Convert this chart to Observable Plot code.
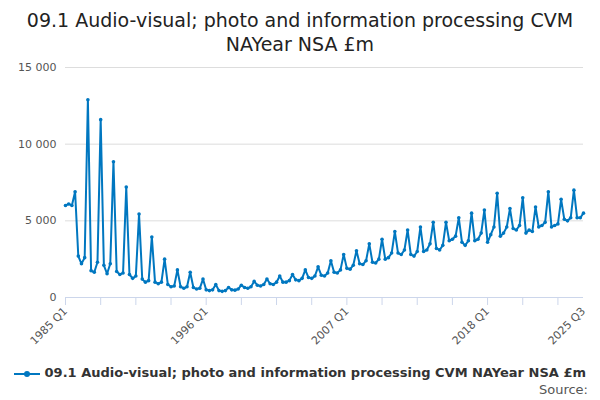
<!DOCTYPE html>
<html><head><meta charset="utf-8">
<script src="https://cdn.jsdelivr.net/npm/d3@7"></script>
<script src="https://cdn.jsdelivr.net/npm/@observablehq/plot@0.6"></script>
<style>
body{margin:0;font-family:"DejaVu Sans",sans-serif;background:#fff;width:600px;height:400px;overflow:hidden;position:relative}
#t{text-align:center;font-size:19px;color:#222;line-height:24px;padding-top:8px;height:42px}
#leg{position:absolute;top:365px;left:0;width:600px;text-align:center;font-size:13px;font-weight:bold;color:#333}
#src{position:absolute;top:382px;right:12px;font-size:13px;color:#555}
svg{overflow:visible}
</style></head><body>
<div id="t">09.1 Audio-visual; photo and information processing CVM<br>NAYear NSA £m</div>
<div id="chart"></div>
<div id="leg"><svg width="26" height="10" style="vertical-align:middle"><line x1="0" y1="5" x2="26" y2="5" stroke="#0077c0" stroke-width="2"/><circle cx="13" cy="5" r="3" fill="#0077c0"/></svg> 09.1 Audio-visual; photo and information processing CVM NAYear NSA £m</div>
<div id="src">Source:</div>
<script>
const startYear = 1985;
const values = [
6000,6100,6000,6900, 2700,2200,2600,12900, 1750,1650,2300,11600, 2100,1550,2200,8850,
1700,1500,1600,7200, 1500,1250,1400,5450, 1200,1000,1100,3950, 1000,900,1000,2500,
850,700,750,1800, 700,600,700,1650, 650,550,600,1200, 500,450,500,850,
450,400,450,650, 500,480,550,800, 650,600,700,1050, 800,750,850,1200,
900,850,1000,1400, 1000,1000,1100,1500, 1150,1100,1250,1800, 1300,1250,1400,2000,
1450,1400,1600,2400, 1650,1600,1800,2800, 1900,1850,2100,3050, 2200,2150,2400,3500,
2300,2250,2500,3800, 2500,2600,2900,4300, 2900,2800,3100,4400, 2800,2700,3000,4600,
3000,3100,3500,4900, 3200,3100,3400,4900, 3700,3800,4000,5200, 3600,3400,3700,5500,
3700,3800,4200,5700, 3600,4100,4600,6800, 4000,4200,4600,5800, 4500,4400,4700,6500,
4200,4400,4300,5900, 4600,4700,4900,6900, 4600,4700,4800,6400, 5100,5000,5200,7000,
5200,5200,5500];
const labelIdx = [0,44,88,132,162];
const yTicks = [0,5000,10000,15000];
const data = values.map((v,i)=>({i, v}));
const lab = i => `${startYear+Math.floor(i/4)} Q${i%4+1}`;
const minor = d3.range(0,163,11);
const fmt = d => d3.format(",")(d).replace(/,/g," ");
const chart = Plot.plot({
  width:600, height:300, marginTop:17, marginLeft:65, marginRight:17, marginBottom:53,
  style:{fontFamily:"DejaVu Sans, sans-serif", fontSize:"11px", color:"#555", overflow:"visible"},
  x:{domain:[0,162], axis:null, label:null},
  y:{domain:[0,15000], axis:null, label:null},
  marks:[
    Plot.gridY(yTicks,{stroke:"#ddd", strokeOpacity:1}),
    Plot.axisY(yTicks,{tickSize:0, tickFormat:fmt, fill:"#555", fontSize:11, label:null}),
    Plot.ruleY([0],{stroke:"#ccd6eb"}),
    Plot.axisX(minor,{tickSize:8, stroke:"#ccd6eb", tickFormat:()=>"", label:null}),
    Plot.axisX(labelIdx,{tickSize:0, tickFormat:lab, tickRotate:-45, fill:"#555", fontSize:11, label:null}),
    Plot.line(data,{x:"i", y:"v", stroke:"#0077c0", strokeWidth:2}),
    Plot.dot(data,{x:"i", y:"v", fill:"#0077c0", r:1.8})
  ]
});
document.getElementById("chart").appendChild(chart);
</script></body></html>
